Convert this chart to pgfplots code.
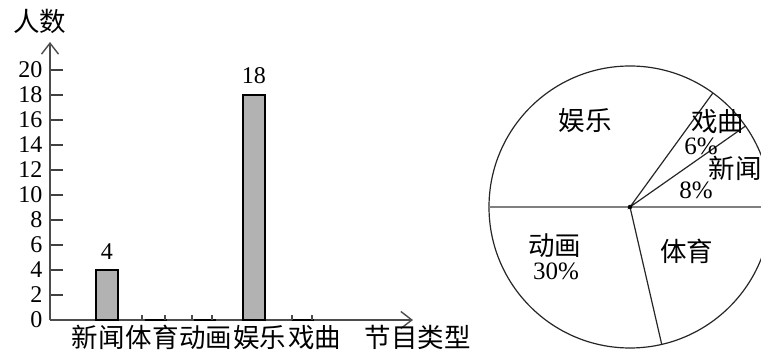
\documentclass[border=0pt]{standalone}
\usepackage{pgfplots}
\pgfplotsset{compat=1.18}
\usetikzlibrary{arrows.meta}
\usepackage{fontspec}
\setmainfont{Liberation Serif}
\newfontfamily\cjk{Noto Sans CJK SC}
\newcommand\cjkf{\cjk\fontsize{26.5}{30}\selectfont}
\newcommand\numf{\fontsize{24}{26}\selectfont}
\newcommand\pctf{\fontsize{25}{27}\selectfont}
\tikzset{myarrow/.style={-{Straight Barb[length=11pt,width=17pt,line width=1.4pt]}}}
\pgfplotsset{baraxis/.style={
  at={(50pt,33pt)}, anchor=south west,
  scale only axis, width=363pt, height=278pt,
  xmin=-1.163, xmax=6.245, ymin=0, ymax=22.24,
  enlargelimits=false, clip=false}}
\begin{document}
\begin{tikzpicture}
\path[use as bounding box] (0pt,0pt) rectangle (761pt,353pt);
\begin{axis}[
  baraxis,
  axis lines*=left,
  axis line style={line width=1.7pt, draw=black!70, myarrow},
  /pgf/number format/assume math mode=true,
  tick align=inside,
  major tick length=13pt,
  ytick={0,2,...,20},
  yticklabel style={font=\numf, xshift=-4pt},
  ytick style={line width=1.5pt, black!75},
  xtick={-0.18,0.92,2.02,3.12,4.24},
  xticklabels={新闻,体育,动画,娱乐,戏曲},
  xtick style={draw=none},
  xticklabel style={font=\cjkf, inner sep=1pt, yshift=-4pt},
  xlabel={节目类型}, ylabel={人数},
  every axis x label/.style={at={(rel axis cs:1,0)}, anchor=center, xshift=5pt, yshift=-17pt, font=\cjkf},
  every axis y label/.style={at={(rel axis cs:0,1)}, anchor=center, xshift=-10pt, yshift=21pt, font=\cjkf},
  point meta=explicit symbolic,
  nodes near coords,
  every node near coord/.append style={font=\fontsize{24}{26}\selectfont, inner sep=2pt, yshift=8pt},
]
\addplot[ybar, bar width=22pt, bar shift=0pt, fill=gray!60, draw=black, line width=1.6pt]
  coordinates {(0,4) [4] (1,0) [] (2,0) [] (3,18) [18] (4,0) []};
\end{axis}
\begin{axis}[
  baraxis,
  axis x line*=bottom, axis y line=none,
  x axis line style={draw=none},
  tick align=inside,
  major tick length=5pt,
  xtick={0.714,1.184,1.735,2.143,3.776,4.184},
  xticklabels={},
  xtick style={line width=1.3pt, black!70},
  ytick=\empty,
]
\end{axis}
\begin{axis}[
  at={(630pt,146pt)}, anchor=center,
  scale only axis, width=282pt, height=282pt,
  xmin=-1, xmax=1, ymin=-1, ymax=1,
  hide axis, clip=false,
]
\draw[line width=1.2pt, black!85] (axis cs:0,0) circle[radius=141pt];
\addplot[gray, line width=2.6pt] coordinates {(-1,0) (1,0)};
\addplot[black!85, line width=1.2pt] coordinates {(0.588,0.809) (0,0) (0.819,0.574)};
\addplot[black!85, line width=1.2pt] coordinates {(0,0) (0.225,-0.974)};
\addplot[only marks, mark=*, mark size=2pt, black] coordinates {(0,0)};
\node[font=\cjkf] at (axis cs:-0.319,0.610) {娱乐};
\node[font=\cjkf] at (axis cs:0.624,0.603) {戏曲};
\node[font=\pctf] at (axis cs:0.504,0.433) {6\%};
\node[font=\cjkf] at (axis cs:0.745,0.277) {新闻};
\node[font=\pctf] at (axis cs:0.468,0.121) {8\%};
\node[font=\cjkf] at (axis cs:-0.532,-0.277) {动画};
\node[font=\pctf] at (axis cs:-0.525,-0.454) {30\%};
\node[font=\cjkf] at (axis cs:0.404,-0.312) {体育};
\end{axis}
\end{tikzpicture}
\end{document}
